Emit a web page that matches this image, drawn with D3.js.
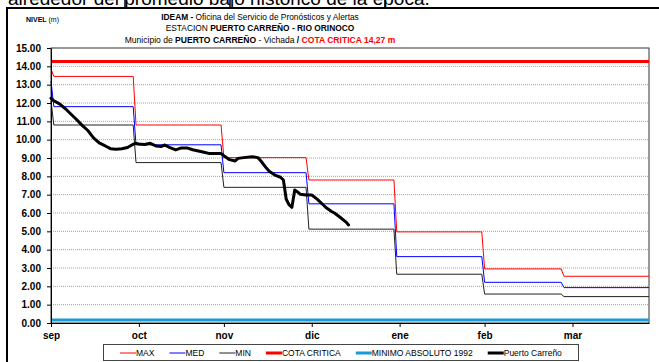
<!DOCTYPE html>
<html>
<head>
<meta charset="utf-8">
<script src="https://cdn.jsdelivr.net/npm/d3@7"></script>
<style>
  body { margin: 0; background: #fff; }
  svg { display: block; }
  text { font-family: Arial, "Liberation Sans", sans-serif; }
</style>
</head>
<body>
<svg id="chart" width="659" height="362"></svg>
<script>
// ---- data ----
const monthLabels = ["sep", "oct", "nov", "dic", "ene", "feb", "mar"];
const tickDates   = ["09-01", "10-02", "11-01", "12-02", "01-02", "02-01", "03-04"];
const yTicks      = [0, 1, 2, 3, 4, 5, 6, 7, 8, 9, 10, 11, 12, 13, 14, 15];

// historical monthly levels (m)
const stepMonths = ["09", "10", "11", "12", "01", "02", "03"];
const maxLevels  = [13.45, 10.80, 9.02, 7.80, 4.97, 2.95, 2.55];
const medLevels  = [11.80, 9.72, 8.20, 6.50, 3.62, 2.22, 1.93];
const minLevels  = [10.80, 8.75, 7.40, 5.12, 2.66, 1.58, 1.44];
const firstDayMax = 13.85, firstDayMed = 13.20, firstDayMin = 12.10;

const cotaCritica = 14.27;
const minimoAbsoluto1992 = 0.17;

// observed levels, Puerto Carreño
const obsDates = ["09-01","09-02","09-04","09-06","09-08","09-10","09-12","09-14","09-16","09-18",
  "09-20","09-22","09-24","09-26","09-28","09-30","10-01","10-02","10-04","10-06","10-08","10-10",
  "10-11","10-13","10-15","10-17","10-19","10-21","10-23","10-25","10-27","10-29","10-31","11-01",
  "11-03","11-05","11-06","11-08","11-11","11-13","11-14","11-16","11-17","11-19","11-21","11-22",
  "11-23","11-24","11-25","11-26","11-27","11-28","11-30","12-02","12-04","12-06","12-07","12-09",
  "12-10","12-12","12-14","12-15"];
const obsLevels = [12.26,12.12,11.95,11.70,11.40,11.10,10.78,10.50,10.10,9.82,
  9.67,9.51,9.48,9.50,9.57,9.75,9.80,9.76,9.74,9.80,9.66,9.63,
  9.71,9.57,9.44,9.55,9.55,9.45,9.38,9.31,9.24,9.25,9.24,9.12,
  8.91,8.84,8.98,9.02,9.07,9.02,8.85,8.45,8.28,8.07,7.95,7.80,
  6.75,6.45,6.31,7.25,7.15,7.02,6.98,6.98,6.74,6.45,6.30,6.08,
  6.00,5.77,5.52,5.35];

const legendLabels = ["MAX", "MED", "MIN", "COTA CRITICA", "MINIMO ABSOLUTO 1992", "Puerto Carreño"];

// ---- helpers ----
const seasonYear = m => (m >= 9 ? 2010 : 2011);
const toDate = s => { const [m, d] = s.split("-").map(Number); return new Date(seasonYear(m), m - 1, d); };
const seasonStart = new Date(2010, 8, 1);
const seasonEnd = new Date(2011, 2, 31);

function stepSeries(levels, first) {
  const pts = [[seasonStart, first]];
  stepMonths.forEach((ms, i) => {
    const m = +ms, yr = seasonYear(m);
    const start = i === 0 ? new Date(yr, m - 1, 2) : new Date(yr, m - 1, 1);
    const end = i === stepMonths.length - 1 ? seasonEnd : new Date(yr, m, 0);
    pts.push([start, levels[i]], [end, levels[i]]);
  });
  return pts;
}

// scale a text's font size so that it spans the given width
function fitWidth(sel, width, baseSize) {
  const w = sel.node().getComputedTextLength();
  sel.attr("font-size", +(baseSize * width / w).toFixed(2));
}

// ---- layout ----
const svg = d3.select("#chart");
const plot = { left: 51, right: 649, top: 48, bottom: 323 };

const x = d3.scaleTime().domain([seasonStart, seasonEnd]).range([plot.left, plot.right]);
const y = d3.scaleLinear().domain([0, 15]).range([plot.bottom, plot.top]);

svg.append("rect").attr("width", 659).attr("height", 362).attr("fill", "#fff");

// page text running above the figure frame
const pageText = svg.append("text").attr("x", 8).attr("y", 5)
  .attr("font-size", 17).text("alrededor del promedio bajo histórico de la época.");
fitWidth(pageText, 422, 17);
[125, 230, 385].forEach(px => svg.append("line")
  .attr("x1", px).attr("x2", px).attr("y1", 0).attr("y2", 8)
  .attr("stroke", "#000").attr("stroke-width", 1.5));

// figure frame
svg.append("line").attr("x1", 6).attr("x2", 659).attr("y1", 8).attr("y2", 8)
  .attr("stroke", "#000").attr("stroke-width", 2);
svg.append("line").attr("x1", 7).attr("x2", 7).attr("y1", 7).attr("y2", 362)
  .attr("stroke", "#000").attr("stroke-width", 2);

// titles
const narrow = '"Liberation Sans Narrow", "Arial Narrow", Arial, sans-serif';
function titleLine(yPos, width, parts) {
  const t = svg.append("text").attr("x", 260).attr("y", yPos).attr("text-anchor", "middle")
    .attr("font-size", 9.5).style("font-family", narrow);
  parts.forEach(p => t.append("tspan").text(p[0])
    .attr("font-weight", p[1] ? "bold" : "normal").attr("fill", p[2] || "#000"));
  fitWidth(t, width, 9.5);
}
titleLine(19.5, 198, [["IDEAM - ", true], ["Oficina del Servicio de Pronósticos y Alertas", false]]);
titleLine(31, 189, [["ESTACION ", false], ["PUERTO CARREÑO - RIO ORINOCO", true]]);
titleLine(43, 271, [["Municipio de ", false], ["PUERTO CARREÑO", true], [" - Vichada  ", false],
  ["/  ", true], ["COTA CRITICA 14,27 m", true, "#ff0000"]]);

const nivel = svg.append("text").attr("x", 26).attr("y", 22).attr("font-size", 8)
  .style("font-family", narrow);
nivel.append("tspan").attr("font-weight", "bold").text("NIVEL");
nivel.append("tspan").text(" (m)");
fitWidth(nivel, 33, 8);

// gridlines
svg.append("g").selectAll("line").data(yTicks.filter(v => v > 0 && v < 15)).join("line")
  .attr("x1", plot.left).attr("x2", plot.right)
  .attr("y1", d => y(d)).attr("y2", d => y(d))
  .attr("stroke", "#a0a0a0").attr("stroke-width", 1).attr("stroke-dasharray", "1,1");

// plot border
svg.append("rect").attr("x", plot.left).attr("y", plot.top)
  .attr("width", plot.right - plot.left).attr("height", plot.bottom - plot.top)
  .attr("fill", "none").attr("stroke", "#333").attr("stroke-width", 1);

const line = d3.line().x(d => x(d[0])).y(d => y(d[1]));

// reference levels
svg.append("path").datum([[seasonStart, minimoAbsoluto1992], [seasonEnd, minimoAbsoluto1992]])
  .attr("d", line).attr("fill", "none").attr("stroke", "#1a9ad6").attr("stroke-width", 3);
svg.append("path").datum([[seasonStart, cotaCritica], [seasonEnd, cotaCritica]])
  .attr("d", line).attr("fill", "none").attr("stroke", "#ff0000").attr("stroke-width", 3);

// historical steps
svg.append("path").datum(stepSeries(minLevels, firstDayMin))
  .attr("d", line).attr("fill", "none").attr("stroke", "#222").attr("stroke-width", 1);
svg.append("path").datum(stepSeries(medLevels, firstDayMed))
  .attr("d", line).attr("fill", "none").attr("stroke", "#0000ff").attr("stroke-width", 1);
svg.append("path").datum(stepSeries(maxLevels, firstDayMax))
  .attr("d", line).attr("fill", "none").attr("stroke", "#ff0000").attr("stroke-width", 1);

// observed series
svg.append("path").datum(obsDates.map((d, i) => [toDate(d), obsLevels[i]]))
  .attr("d", line).attr("fill", "none").attr("stroke", "#000").attr("stroke-width", 3)
  .attr("stroke-linejoin", "round").attr("stroke-linecap", "round");

// axes
const yAxis = svg.append("g").attr("transform", `translate(${plot.left},0)`)
  .call(d3.axisLeft(y).tickValues(yTicks).tickFormat(d3.format(".2f")).tickSize(4).tickPadding(6).tickSizeOuter(0));
yAxis.selectAll("text").attr("font-size", 10).attr("font-weight", "bold").attr("fill", "#000")
  .style("font-family", "Arial, 'Liberation Sans', sans-serif");
yAxis.selectAll("line,path").attr("stroke", "#000");

const xAxis = svg.append("g").attr("transform", `translate(0,${plot.bottom})`)
  .call(d3.axisBottom(x).tickValues(tickDates.map(toDate)).tickFormat((d, i) => monthLabels[i])
    .tickSize(4).tickPadding(5).tickSizeOuter(0));
xAxis.selectAll("text").attr("font-size", 10).attr("font-weight", "bold").attr("fill", "#000")
  .style("font-family", "Arial, 'Liberation Sans', sans-serif");
xAxis.selectAll("line,path").attr("stroke", "#000");

// legend
const legend = svg.append("g");
legend.append("rect").attr("x", 103.5).attr("y", 344.5).attr("width", 475).attr("height", 16)
  .attr("fill", "#fff").attr("stroke", "#444").attr("stroke-width", 1);
const legendColors = ["#ff0000", "#0000ff", "#222", "#ff0000", "#1a9ad6", "#000"];
const legendWidths = [1, 1, 1, 3, 3, 3];
let lx = 120;
legendLabels.forEach((lab, i) => {
  legend.append("line").attr("x1", lx).attr("x2", lx + 16).attr("y1", 353).attr("y2", 353)
    .attr("stroke", legendColors[i]).attr("stroke-width", legendWidths[i]);
  const t = legend.append("text").attr("x", lx + 16).attr("y", 356).attr("font-size", 8.5).text(lab);
  lx = lx + 16 + t.node().getComputedTextLength() + 15;
});
</script>
</body>
</html>
